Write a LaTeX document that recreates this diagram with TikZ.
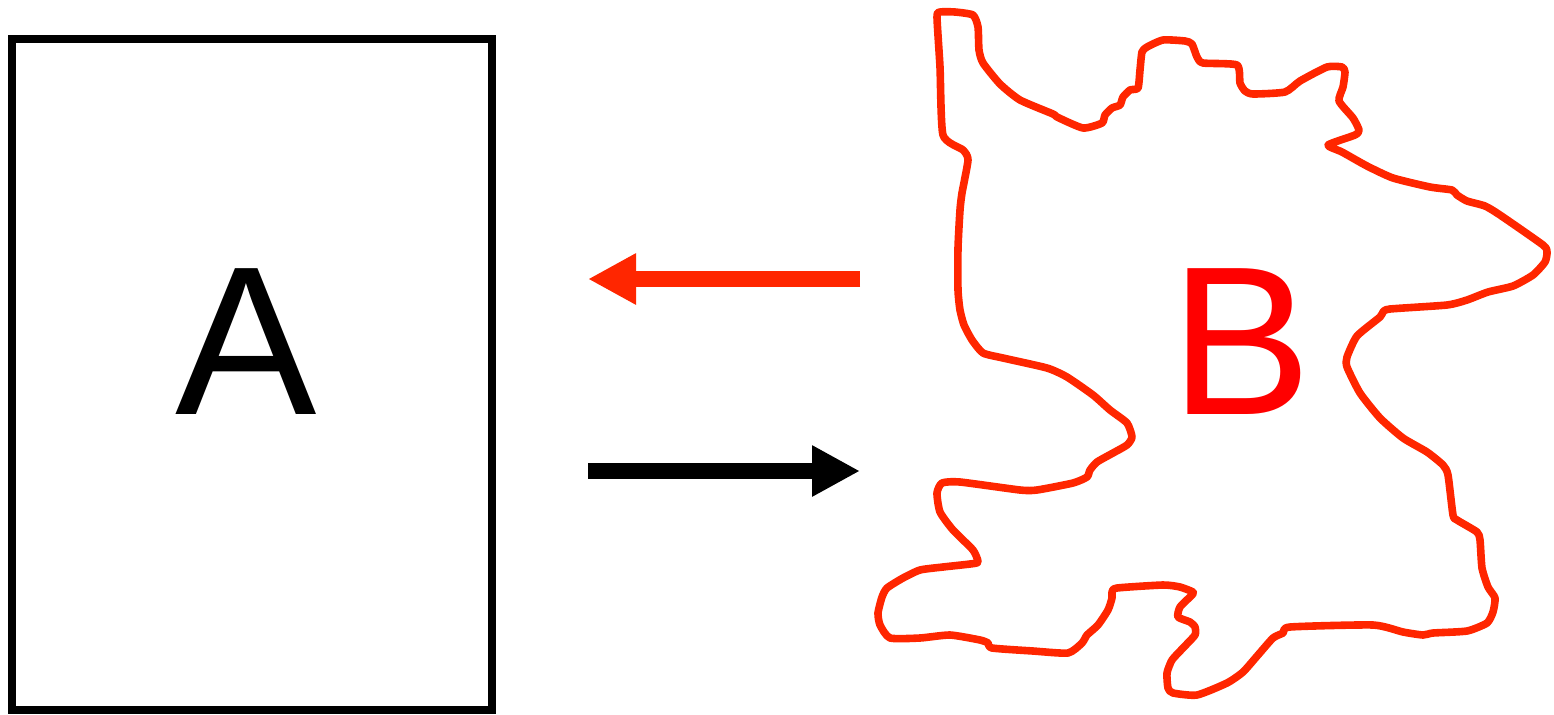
\documentclass[tikz,border=0pt]{standalone}
\usepackage{fontspec}
\setmainfont{Liberation Sans}
\usetikzlibrary{arrows.meta}
\definecolor{blobred}{RGB}{255,38,0}
\definecolor{purered}{RGB}{255,0,0}
\tikzset{
  bigletter/.style={inner sep=0pt, font=\fontsize{106pt}{106pt}\selectfont},
  fatarrow/.style={line width=8pt, -{Triangle[length=24pt,width=24pt]}},
  blobline/.style={draw=blobred, line width=3.8pt, line join=round}
}
\begin{document}
\begin{tikzpicture}[x=0.5pt,y=-0.5pt]
\useasboundingbox (0,0) rectangle (1554,714);
% box A
\node[draw=black, line width=4pt, minimum width=240pt, minimum height=335.5pt, inner sep=0pt] (boxA) at (252,374.5) {};
\node[bigletter] (A) at (246.5,342) {A};
% blob B
\draw[blobline] plot[smooth cycle, tension=0.35] coordinates {
(940,12) (955,12) (973,15) (978,27) (979,50) (983,63) (1000,84) (1020,100) (1053,114) (1057,117) (1083,128) (1102,123) (1105,115) (1112,108) (1120,105) (1123,97) (1130,90) (1138,88) (1140,70) (1142,52) (1147,47) (1163,40) (1185,41) (1192,44) (1197,57) (1203,63) (1237,65) (1240,83) (1245,91) (1253,94) (1285,92) (1300,81) (1327,67) (1342,67) (1345,72) (1343,87) (1339,101) (1353,118) (1359,130) (1355,135) (1328,145) (1342,152) (1367,166) (1393,178) (1430,187) (1452,190) (1457,195) (1467,201) (1485,206) (1500,215) (1543,245) (1547,252) (1545,262) (1533,275) (1513,286) (1488,292) (1467,300) (1447,305) (1390,309) (1383,312) (1380,317) (1357,336) (1347,357) (1347,367) (1360,393) (1380,418) (1403,438) (1427,452) (1443,465) (1448,475) (1453,515) (1457,520) (1477,532) (1480,540) (1482,568) (1488,587) (1495,598) (1493,612) (1487,623) (1467,631) (1433,633) (1423,635) (1403,632) (1373,625) (1290,627) (1283,633) (1273,638) (1258,655) (1243,672) (1227,683) (1197,695) (1173,693) (1168,688) (1167,673) (1172,660) (1183,648) (1195,635) (1195,627) (1190,622) (1178,617) (1180,607) (1192,595) (1193,592) (1180,587) (1163,585) (1117,588) (1112,592) (1112,598) (1108,610) (1098,625) (1087,635) (1082,643) (1068,653) (1033,651) (992,648) (988,643) (980,640) (950,635) (920,638) (890,638) (880,625) (878,613) (882,597) (887,588) (903,578) (920,570) (943,567) (970,564) (978,562) (973,550) (953,530) (940,512) (937,493) (942,483) (960,482) (1020,490) (1037,490) (1073,483) (1087,477) (1090,470) (1097,462) (1113,453) (1127,445) (1132,437) (1127,423) (1110,410) (1093,395) (1067,377) (1047,368) (1003,358) (983,353) (972,340) (964,325) (960,310) (958,290) (958,248) (960,210) (962,193) (968,160) (963,150) (943,135) (940,67) (937,17)
};
\node[bigletter, text=purered] (B) at (1241,342) {B};
% arrows
\coordinate (rs) at (860,279);
\coordinate (re) at (588,279);
\coordinate (bs) at (588,471);
\coordinate (be) at (860,471);
\draw[fatarrow, blobred] (rs) -- (re);
\draw[fatarrow, black] (bs) -- (be);
\end{tikzpicture}
\end{document}
